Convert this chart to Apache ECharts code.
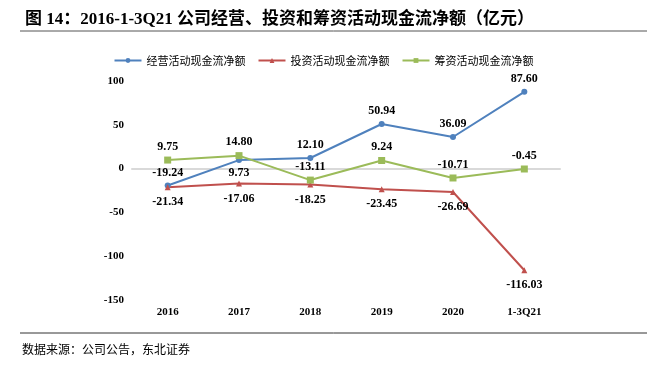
<!DOCTYPE html>
<html><head><meta charset="utf-8">
<script src="https://cdn.jsdelivr.net/npm/echarts@6/dist/echarts.min.js"></script>
<style>html,body{margin:0;padding:0;background:#fff}#c{width:647px;height:370px}</style>
</head><body><div id="c"></div>
<script>
const categories = ['2016','2017','2018','2019','2020','1-3Q21'];
const operating = [-19.24, 9.73, 12.10, 50.94, 36.09, 87.60];
const investing = [-21.34, -17.06, -18.25, -23.45, -26.69, -116.03];
const financing = [9.75, 14.80, -13.11, 9.24, -10.71, -0.45];
const seriesNames = ['经营活动现金流净额','投资活动现金流净额','筹资活动现金流净额'];
const operatingLabelPos = ['top','bottom','top','top','top','top'];

const serif = 'Liberation Serif, "Times New Roman", "Noto Sans CJK SC"';
const cjk = '"Noto Sans CJK SC", sans-serif';
const lblStyle = {show:true, fontFamily: serif, fontWeight:'bold', fontSize:12, color:'#000', distance:4, formatter: p => p.value.toFixed(2)};

const chart = echarts.init(document.getElementById('c'));
chart.setOption({
  animation:false,
  title:{text:'图 14：2016-1-3Q21 公司经营、投资和筹资活动现金流净额（亿元）', left:20, top:6,
    textStyle:{fontFamily: serif, fontWeight:'bold', fontSize:17, color:'#000'}},
  legend:{top:50, left:'center', itemWidth:27, itemHeight:6, itemGap:12,
    textStyle:{fontFamily: cjk, fontSize:11, color:'#000'},
    data: seriesNames.map(n=>({name:n}))},
  grid:{left:132, right:87, top:81, bottom:70},
  xAxis:{type:'category', data:categories, boundaryGap:true,
    axisLine:{show:true, onZero:true, lineStyle:{color:'#d9d9d9', width:2}}, axisTick:{show:false},
    axisLabel:{fontFamily: serif, fontWeight:'bold', fontSize:11, color:'#000', margin:7}},
  yAxis:{type:'value', min:-150, max:100, interval:50,
    axisLine:{show:false}, axisTick:{show:false},
    splitLine:{show:false},
    axisLabel:{fontFamily: serif, fontWeight:'bold', fontSize:11, color:'#000', margin:8}},
  series:[
    {name:seriesNames[0], type:'line', data: operating.map((v,i)=>({value:v, label:{position:operatingLabelPos[i]}})),
      symbol:'circle', symbolSize:6, lineStyle:{width:2, color:'#4F81BD'}, itemStyle:{color:'#4F81BD'},
      label:lblStyle},
    {name:seriesNames[1], type:'line', data: investing, symbol:'triangle', symbolSize:6,
      lineStyle:{width:2, color:'#C0504D'}, itemStyle:{color:'#C0504D'},
      label:Object.assign({}, lblStyle, {position:'bottom', distance:6})},
    {name:seriesNames[2], type:'line', data: financing, symbol:'rect', symbolSize:7,
      lineStyle:{width:2, color:'#9BBB59'}, itemStyle:{color:'#9BBB59'},
      label:Object.assign({}, lblStyle, {position:'top', distance:4})}
  ],
  graphic:[
    {type:'line', shape:{x1:20,y1:31,x2:647,y2:31}, style:{stroke:'#555', lineWidth:1}},
    {type:'line', shape:{x1:20,y1:333,x2:647,y2:333}, style:{stroke:'#333', lineWidth:1}},
    {type:'text', left:22, top:343, style:{text:'数据来源：公司公告，东北证券', font:'12px "Noto Sans CJK SC"', fill:'#000'}}
  ]
});
</script></body></html>
